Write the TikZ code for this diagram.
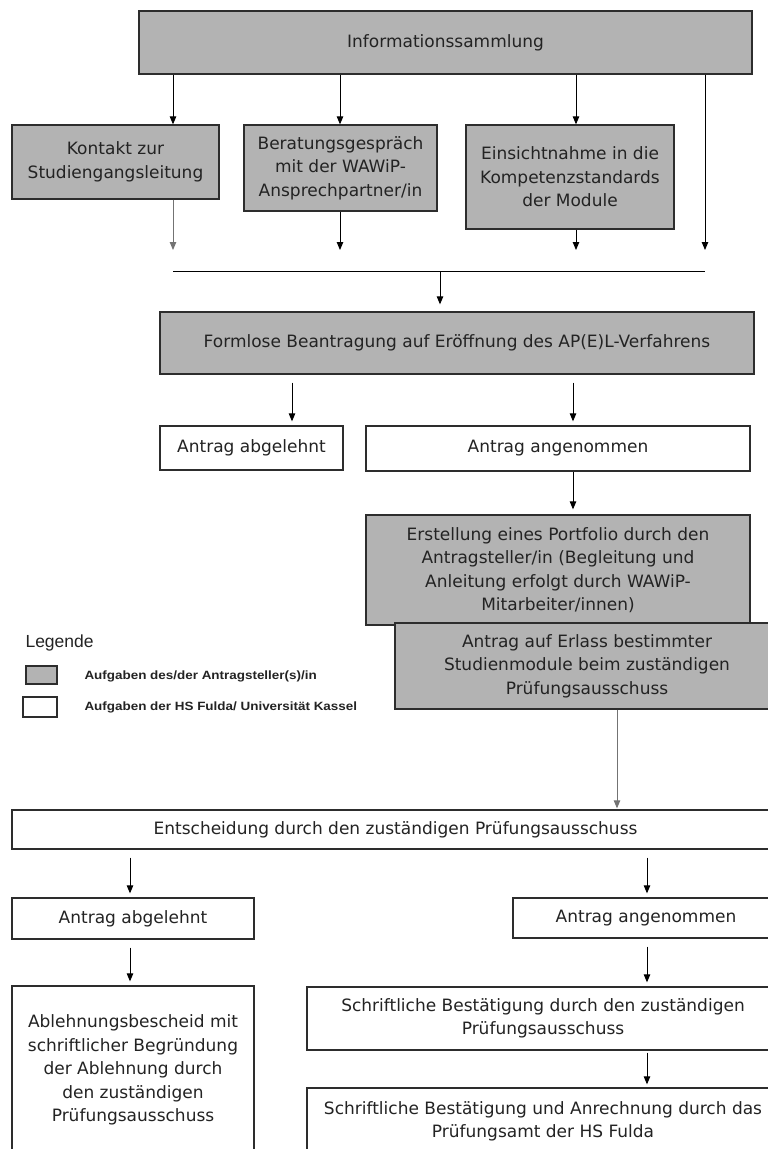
\documentclass[tikz,border=0pt]{standalone}
\usepackage{fontspec}
\setmainfont{DejaVu Sans}
\newfontfamily\legendfont{Liberation Sans}
\newfontfamily\legendwide{Liberation Sans}[FakeStretch=1.12]
\usepackage{tikz}
\usetikzlibrary{arrows.meta, positioning, calc}
\definecolor{taskgray}{RGB}{179, 179, 179}
\definecolor{framegray}{RGB}{45, 45, 45}
\definecolor{textgray}{RGB}{35, 35, 35}

\begin{document}
\begin{tikzpicture}[
    x=1pt, y=-1pt,
    every node/.style={font=\fontsize{17}{23.4}\selectfont, text=textgray},
    box/.style={draw=framegray, line width=1.3pt, inner sep=0pt, align=center},
    boxsize/.style 2 args={minimum width=#1pt, minimum height=#2pt},
    taskbox/.style={box, fill=taskgray},
    unibox/.style={box, fill=white},
    arr/.style={-{Triangle[width=6.5pt, length=8pt]}, line width=0.9pt, black},
    arrgray/.style={arr, draw=black!55},
    gap/.style={shorten <=8pt, shorten >=4pt},
    legendlabel/.style={anchor=west, font=\legendwide\bfseries\fontsize{12}{14}\selectfont}
]
\useasboundingbox (0,0) rectangle (768,1149);

% Information gathering
\node[taskbox, boxsize={613}{63}] (info) at (445.5,42.5) {Informationssammlung};
\node[taskbox, boxsize={207}{74}] (kontakt) at (115.5,162) {Kontakt zur\\Studiengangsleitung};
\node[taskbox, boxsize={193}{86}] (beratung) at (340.5,168) {Beratungsgespräch\\mit der WAWiP-\\Ansprechpartner/in};
\node[taskbox, boxsize={208}{104}] (einsicht) at (570,177) {Einsichtnahme in die\\Kompetenzstandards\\der Module};

% Join bar
\coordinate (j1) at (173,250);
\coordinate (j2) at (340,250);
\coordinate (j3) at (576,250);
\coordinate (j4) at (705,250);
\coordinate (barL) at (173,271);
\coordinate (barR) at (705,271);
\coordinate (barM) at (440,271);

\draw[arr] (info.south -| j1) -- (kontakt.north -| j1);
\draw[arr] (info.south -| j2) -- (beratung.north -| j2);
\draw[arr] (info.south -| j3) -- (einsicht.north -| j3);
\draw[arr] (info.south -| j4) -- (j4);
\draw[arrgray] (kontakt.south -| j1) -- (j1);
\draw[arr] (beratung.south -| j2) -- (j2);
\draw[arr] (einsicht.south -| j3) -- (j3);
\draw[line width=0.9pt] (barL) -- (barR);

% Application
\node[taskbox, boxsize={594}{62}] (formlos) at (457,343) {Formlose Beantragung auf Eröffnung des AP(E)L-Verfahrens};
\node[unibox, boxsize={183}{44}] (abgelehnt) at (251.5,448) {Antrag abgelehnt};
\node[unibox, boxsize={384}{45}] (angenommen) at (558,448.5) {Antrag angenommen};
\node[taskbox, boxsize={384}{110}] (portfolio) at (558,570) {Erstellung eines Portfolio durch den\\Antragsteller/in (Begleitung und\\Anleitung erfolgt durch WAWiP-\\Mitarbeiter/innen)};
\node[taskbox, boxsize={384}{86}] (erlass) at (587,666) {Antrag auf Erlass bestimmter\\Studienmodule beim zuständigen\\Prüfungsausschuss};

\coordinate (c1) at (292,0);
\coordinate (c2) at (573,0);
\coordinate (c3) at (617,0);

\draw[arr, shorten >=7pt] (barM) -- (formlos.north -| barM);
\draw[arr, gap] (formlos.south -| c1) -- (abgelehnt.north -| c1);
\draw[arr, gap] (formlos.south -| c2) -- (angenommen.north -| c2);
\draw[arr, shorten >=5pt] (angenommen.south -| c2) -- (portfolio.north -| c2);

% Legend
\node[anchor=west, font=\legendfont\fontsize{17.5}{20}\selectfont] (legende) at (22,643) {Legende};
\node[taskbox, line width=1.2pt, boxsize={31}{18}] (legtask) at (41.5,675) {};
\node[unibox, line width=1.2pt, boxsize={34}{20}] (leguni) at (40,707) {};
\node[legendlabel] (legtasktext) at (81,676) {Aufgaben des/der Antragsteller(s)/in};
\node[legendlabel] (legunitext) at (81,707) {Aufgaben der HS Fulda/ Universität Kassel};

% Decision
\node[unibox, boxsize={767}{39}] (entscheidung) at (395.5,829.5) {Entscheidung durch den zuständigen Prüfungsausschuss};
\node[unibox, boxsize={242}{41}] (abgelehnt2) at (133,918.5) {Antrag abgelehnt};
\node[unibox, boxsize={266}{40}] (angenommen2) at (646,918) {Antrag angenommen};
\node[unibox, boxsize={242}{168}] (bescheid) at (133,1070) {Ablehnungsbescheid mit\\schriftlicher Begründung\\der Ablehnung durch\\den zuständigen\\Prüfungsausschuss};
\node[unibox, boxsize={472}{63}] (bestaetigung) at (543,1018.5) {Schriftliche Bestätigung durch den zuständigen\\Prüfungsausschuss};
\node[unibox, boxsize={472}{66}] (anrechnung) at (543,1121) {Schriftliche Bestätigung und Anrechnung durch das\\Prüfungsamt der HS Fulda};

\coordinate (c4) at (130,0);
\coordinate (c5) at (647,0);

\draw[arrgray, shorten >=1pt] (erlass.south -| c3) -- (entscheidung.north -| c3);
\draw[arr, gap] (entscheidung.south -| c4) -- (abgelehnt2.north -| c4);
\draw[arr, gap] (entscheidung.south -| c5) -- (angenommen2.north -| c5);
\draw[arr, gap] (abgelehnt2.south -| c4) -- (bescheid.north -| c4);
\draw[arr, gap] (angenommen2.south -| c5) -- (bestaetigung.north -| c5);
\draw[arr, shorten <=2pt, shorten >=3pt] (bestaetigung.south -| c5) -- (anrechnung.north -| c5);

\end{tikzpicture}
\end{document}
